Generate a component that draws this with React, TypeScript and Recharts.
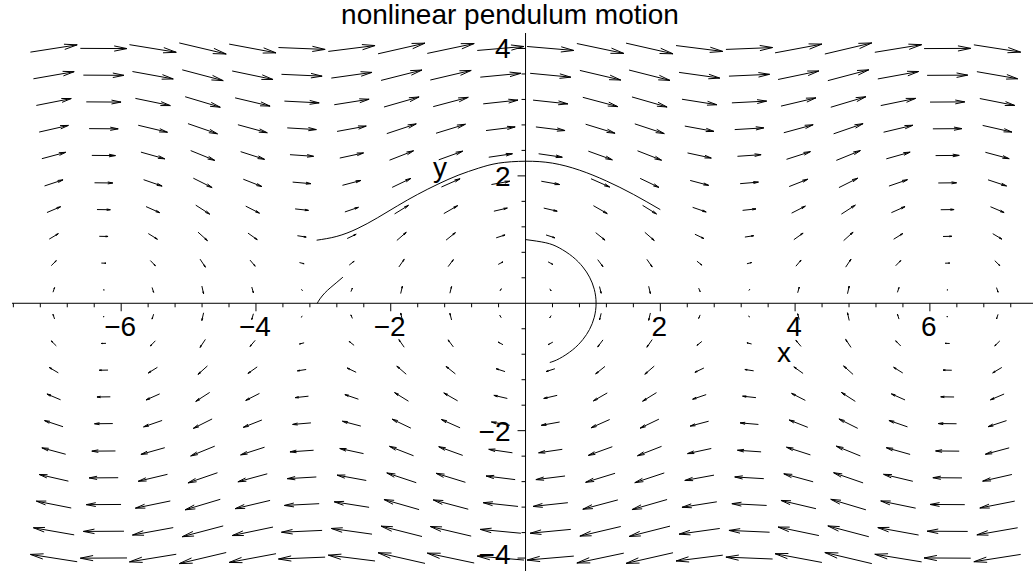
import React from "react";
import { ScatterChart, Scatter, XAxis, YAxis, ReferenceLine } from "recharts";

// direction field grid for x' = y, y' = -sin(x)
const colX = [-7, -6.26, -5.53, -4.79, -4.05, -3.32, -2.58, -1.84, -1.11, -0.37, 0.37, 1.11, 1.84, 2.58, 3.32, 4.05, 4.79, 5.53, 6.26, 7];
const rowY = [-4, -3.58, -3.16, -2.74, -2.32, -1.89, -1.47, -1.05, -0.63, -0.21, 0.21, 0.63, 1.05, 1.47, 1.89, 2.32, 2.74, 3.16, 3.58, 4];
// vertical component of the arrows, one per column
const colSlope = [0.66, -0.02, -0.69, -1.0, -0.79, -0.17, 0.53, 0.96, 0.89, 0.36, -0.36, -0.89, -0.96, -0.53, 0.17, 0.79, 1.0, 0.69, 0.02, -0.66];

// solution curves
const waveX = [-3.1, -2.8, -2.5, -2.2, -1.9, -1.6, -1.3, -1.0, -0.7, -0.4, 0, 0.4, 0.8, 1.2, 1.6, 2.0];
const waveY = [0.99, 1.05, 1.17, 1.34, 1.53, 1.71, 1.87, 2.01, 2.12, 2.2, 2.23, 2.2, 2.09, 1.92, 1.71, 1.47];
const shortX = [-3.09, -3.05, -2.98, -2.9, -2.81, -2.71];
const shortY = [0, 0.07, 0.16, 0.24, 0.32, 0.41];
const loopX = [0, 0.3, 0.5, 0.7, 0.85, 0.95, 1.02, 1.047, 1.02, 0.95, 0.85, 0.7, 0.5, 0.36];
const loopY = [1.0, 0.95, 0.87, 0.73, 0.57, 0.41, 0.22, 0, -0.22, -0.41, -0.57, -0.73, -0.87, -0.93];

const xLabels = [-6, -4, -2, 2, 4, 6];
const yLabels = [-4, -2, 2, 4];

const W = 1033;
const H = 571;
const margin = { top: 33, right: 0, bottom: 0, left: 12 };
const xDomain: [number, number] = [-7.62, 7.53];
const yDomain: [number, number] = [-4.203, 4.243];
const pxX = (W - margin.left - margin.right) / (xDomain[1] - xDomain[0]);
const pxY = (H - margin.top - margin.bottom) / (yDomain[1] - yDomain[0]);

const FONT = "'Liberation Sans', Arial, Helvetica, sans-serif";

const field: any[] = [];
rowY.forEach((y) => {
  colX.forEach((x, i) => {
    field.push({ x, y, u: y, v: colSlope[i] });
  });
});

const toPoints = (xs: number[], ys: number[]) => xs.map((x, i) => ({ x, y: ys[i] }));
const wave = toPoints(waveX, waveY);
const shortArc = toPoints(shortX, shortY);
const loop = toPoints(loopX, loopY);

const minus = (n: number) => (n < 0 ? "\u2212" + Math.abs(n) : String(n));

const xTicks = Array.from({ length: 38 }, (_, i) => {
  const t = Math.round((-7.6 + 0.4 * i) * 10) / 10;
  return { x: t, y: 0, major: xLabels.includes(t) };
}).filter((t) => t.x !== 0);
const yTicks = Array.from({ length: 21 }, (_, i) => {
  const t = Math.round((-4 + 0.4 * i) * 10) / 10;
  return { x: 0, y: t, major: yLabels.includes(t) };
}).filter((t) => t.y !== 0);

const Arrow = (props: any) => {
  const { cx, cy, payload } = props;
  const px = payload.u * pxX;
  const py = -payload.v * pxY;
  const m = Math.hypot(px, py);
  if (!m) return <g />;
  const len = 9.4 * Math.pow(m / 74.8, 1.25);
  const ux = px / m;
  const uy = py / m;
  const x1 = cx - (ux * len) / 2;
  const y1 = cy - (uy * len) / 2;
  const x2 = cx + (ux * len) / 2;
  const y2 = cy + (uy * len) / 2;
  const h = len * 0.28;
  const a = 0.2;
  const bx = -ux;
  const by = -uy;
  const w1x = x2 + h * (bx * Math.cos(a) - by * Math.sin(a));
  const w1y = y2 + h * (bx * Math.sin(a) + by * Math.cos(a));
  const w2x = x2 + h * (bx * Math.cos(-a) - by * Math.sin(-a));
  const w2y = y2 + h * (bx * Math.sin(-a) + by * Math.cos(-a));
  return (
    <path
      d={`M${x1},${y1}L${x2},${y2}M${w1x},${w1y}L${x2},${y2}L${w2x},${w2y}`}
      stroke="#000"
      strokeWidth={1}
      fill="none"
    />
  );
};

const XTick = (props: any) => {
  const { cx, cy, payload } = props;
  return (
    <g>
      <line x1={cx} y1={cy} x2={cx} y2={cy + (payload.major ? 8 : 4)} stroke="#000" strokeWidth={1} />
      {payload.major && (
        <text x={cx - 1} y={cy + 33} textAnchor="middle" fontSize={28} fontFamily={FONT} fill="#000">
          {minus(payload.x)}
        </text>
      )}
    </g>
  );
};

const YTick = (props: any) => {
  const { cx, cy, payload } = props;
  return (
    <g>
      <line x1={cx - (payload.major ? 8 : 4)} y1={cy} x2={cx} y2={cy} stroke="#000" strokeWidth={1} />
      {payload.major && (
        <text x={cx - 15} y={Math.min(cy + 10, H - 7)} textAnchor="end" fontSize={28} fontFamily={FONT} fill="#000">
          {minus(payload.y)}
        </text>
      )}
    </g>
  );
};

const NoDot = () => <g />;

export default function App() {
  return (
    <div style={{ position: "absolute", left: 0, top: 0, width: W, height: H, background: "#fff" }}>
      <ScatterChart width={W} height={H} margin={margin}>
        <XAxis type="number" dataKey="x" domain={xDomain} allowDataOverflow hide />
        <YAxis type="number" dataKey="y" domain={yDomain} allowDataOverflow hide />
        <Scatter data={field} shape={Arrow} isAnimationActive={false} />
        <ReferenceLine x={0} stroke="#000" strokeWidth={1} />
        <ReferenceLine y={0} stroke="#000" strokeWidth={1} />
        <Scatter data={xTicks} shape={XTick} isAnimationActive={false} />
        <Scatter data={yTicks} shape={YTick} isAnimationActive={false} />
        <Scatter data={wave} line={{ stroke: "#000", strokeWidth: 1 }} lineJointType="natural" shape={NoDot} isAnimationActive={false} />
        <Scatter data={shortArc} line={{ stroke: "#000", strokeWidth: 1 }} lineJointType="natural" shape={NoDot} isAnimationActive={false} />
        <Scatter data={loop} line={{ stroke: "#000", strokeWidth: 1 }} lineJointType="natural" shape={NoDot} isAnimationActive={false} />
      </ScatterChart>
      <svg width={W} height={H} style={{ position: "absolute", left: 0, top: 0, pointerEvents: "none" }}>
        <text x={510} y={24} textAnchor="middle" fontSize={28} fontFamily={FONT} fill="#000">
          nonlinear pendulum motion
        </text>
        <text x={784} y={362} textAnchor="middle" fontSize={28} fontFamily={FONT} fill="#000">
          x
        </text>
        <text x={440} y={177} textAnchor="middle" fontSize={28} fontFamily={FONT} fill="#000">
          y
        </text>
      </svg>
    </div>
  );
}
